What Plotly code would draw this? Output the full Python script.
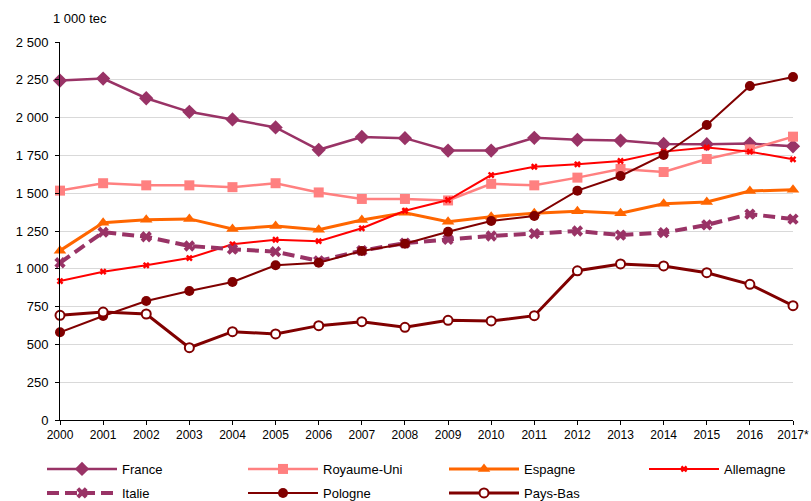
import plotly.graph_objects as go

years = ["2000", "2001", "2002", "2003", "2004", "2005", "2006", "2007", "2008",
         "2009", "2010", "2011", "2012", "2013", "2014", "2015", "2016", "2017*"]

france = [2245, 2258, 2128, 2038, 1988, 1935, 1787, 1872, 1864, 1782, 1782, 1866,
          1853, 1848, 1826, 1824, 1828, 1810]
royaume_uni = [1517, 1566, 1552, 1552, 1540, 1566, 1505, 1462, 1462, 1452, 1562, 1552,
               1603, 1660, 1640, 1726, 1790, 1874]
espagne = [1120, 1305, 1325, 1330, 1263, 1283, 1258, 1323, 1370, 1312, 1345, 1368,
           1380, 1367, 1430, 1442, 1515, 1522]
allemagne = [919, 981, 1023, 1071, 1162, 1192, 1183, 1268, 1384, 1455, 1620, 1675,
             1691, 1713, 1775, 1803, 1775, 1724]
italie = [1040, 1242, 1212, 1151, 1130, 1113, 1052, 1120, 1170, 1195, 1217, 1233,
          1250, 1223, 1239, 1290, 1362, 1329]
pologne = [580, 688, 787, 853, 913, 1023, 1040, 1118, 1166, 1245, 1316, 1349,
           1517, 1614, 1753, 1951, 2209, 2269]
pays_bas = [692, 714, 701, 478, 584, 569, 624, 650, 613, 659, 655, 690,
            987, 1032, 1019, 974, 897, 756]

y_tick_vals = [0, 250, 500, 750, 1000, 1250, 1500, 1750, 2000, 2250, 2500]
y_tick_text = ["0", "250", "500", "750", "1 000", "1 250", "1 500", "1 750",
               "2 000", "2 250", "2 500"]

FONT = "Liberation Sans, Arial, sans-serif"

fig = go.Figure()

def add(name, vals, color, width, symbol, size, legend, dash="solid",
        fill=None, mline=0):
    fig.add_trace(go.Scatter(
        x=years, y=vals, name=name, mode="lines+markers", legend=legend,
        line=dict(color=color, width=width, dash=dash),
        marker=dict(symbol=symbol, size=size, color=fill or color,
                    line=dict(color=color, width=mline)),
        cliponaxis=False,
    ))

add("France", france, "#993366", 2.5, "diamond", 11, "legend")
add("Royaume-Uni", royaume_uni, "#FF8080", 2.5, "square", 10, "legend")
add("Espagne", espagne, "#FF6600", 3, "triangle-up", 11, "legend")
add("Allemagne", allemagne, "#FF0000", 2, "x", 6, "legend3")
add("Italie", italie, "#993366", 4, "x", 10, "legend2", dash="12px,6px")
add("Pologne", pologne, "#800000", 2, "circle", 10, "legend2")
add("Pays-Bas", pays_bas, "#800000", 3, "circle", 9, "legend2",
    fill="#FFFFFF", mline=2)

W, H = 811, 501
PL, PT, PR, PB = 60, 42, 793, 420          # plot area in pixels
L, T, R, B = PL, PT, W - PR, H - PB
pw, ph = W - L - R, H - T - B

def px_x(p):
    return (p - PL) / pw

def px_y(p):
    return (PB - p) / ph

leg_common = dict(
    orientation="h", xanchor="left", yanchor="top",
    font=dict(family=FONT, size=13, color="#000000"),
    itemwidth=70, entrywidth=116, entrywidthmode="pixels",
    bgcolor="rgba(0,0,0,0)", tracegroupgap=0,
)

fig.update_layout(
    width=W, height=H,
    margin=dict(l=L, r=R, t=T, b=B, pad=0, autoexpand=False),
    paper_bgcolor="#FFFFFF", plot_bgcolor="#FFFFFF",
    font=dict(family=FONT, size=13, color="#000000"),
    showlegend=True,
    legend=dict(x=px_x(42), y=px_y(454), **leg_common),
    legend3=dict(x=px_x(644), y=px_y(454), **leg_common),
    legend2=dict(x=px_x(42), y=px_y(478), **leg_common),
    xaxis=dict(
        type="category", range=[0, 17],
        showgrid=False, showline=True, linecolor="#000000", linewidth=1,
        ticks="outside", ticklen=4, tickcolor="#000000", tickwidth=1,
        tickfont=dict(family=FONT, size=12, color="#000000"),
        ticklabeloverflow="allow",
        zeroline=False, fixedrange=True, automargin=False,
    ),
    yaxis=dict(
        range=[0, 2500], tickvals=y_tick_vals, ticktext=y_tick_text,
        showgrid=True, gridcolor="#D9D9D9", gridwidth=1,
        showline=True, linecolor="#000000", linewidth=1,
        ticks="outside", ticklen=4, tickcolor="#000000", tickwidth=1,
        ticklabelstandoff=4,
        tickfont=dict(family=FONT, size=13, color="#000000"),
        zeroline=False, fixedrange=True, automargin=False,
    ),
    annotations=[dict(
        text="1 000 tec", xref="paper", yref="paper",
        x=px_x(51), y=px_y(18), xanchor="left", yanchor="middle",
        showarrow=False, font=dict(family=FONT, size=13, color="#000000"),
    )],
)

fig.write_html(
    "out.html",
    config={"displayModeBar": False},
    post_script="document.body.style.margin='0';document.body.style.overflow='hidden';",
)
